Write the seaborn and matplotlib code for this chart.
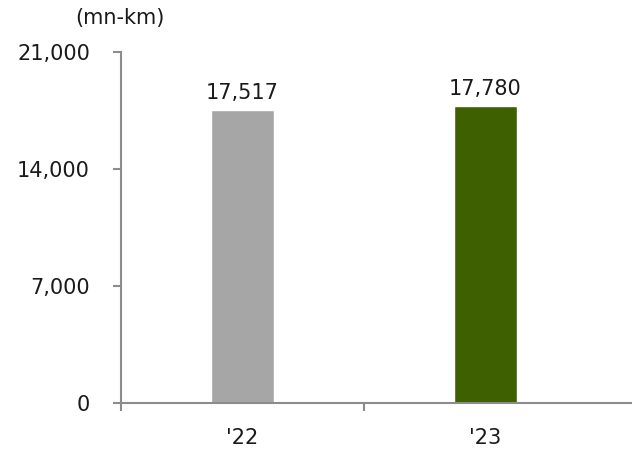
import seaborn as sns
import pandas as pd
import matplotlib
import matplotlib.pyplot as plt

matplotlib.use('Agg')

sns.set_theme(style="ticks")
plt.rcParams['font.family'] = ['DejaVu Sans']

years = ["'22", "'23"]
values = [17517, 17780]
bar_colors = ['#a6a6a6', '#3f6000']
y_ticks = [0, 7000, 14000, 21000]
unit_label = '(mn-km)'

axis_color = '#8c8c8c'
text_color = '#1a1a1a'

df = pd.DataFrame({'Year': years, 'Value': values})

fig = plt.figure(figsize=(6.32, 4.55), dpi=100)
ax = fig.add_axes([121/632, 1 - 403/455, 1 - 121/632, (403 - 52)/455])

sns.barplot(data=df, x='Year', y='Value', hue='Year', palette=bar_colors,
            width=0.26, legend=False, saturation=1, ax=ax)

ax.set_xlim(-0.5, 1.603)
ax.set_ylim(0, 21000)
ax.set_yticks(y_ticks)
ax.set_yticklabels([f'{v:,}' for v in y_ticks])
ax.set_xlabel('')
ax.set_ylabel('')

# category boundary ticks on x axis, labels at centres
ax.set_xticks([0, 1])
ax.set_xticklabels(years)
ax.set_xticks([-0.5, 0.5], minor=True)
ax.tick_params(axis='x', which='major', bottom=True, length=0, pad=18,
               labelsize=15, labelcolor=text_color)
ax.tick_params(axis='x', which='minor', bottom=True, length=5.8, width=1.5,
               color=axis_color, direction='out')
ax.tick_params(axis='y', left=True, length=5.8, width=1.5, color=axis_color,
               direction='out', pad=16.5, labelsize=15, labelcolor=text_color)

for side in ['top', 'right']:
    ax.spines[side].set_visible(False)
for side in ['left', 'bottom']:
    ax.spines[side].set_color(axis_color)
    ax.spines[side].set_linewidth(1.5)

for c in ax.containers:
    ax.bar_label(c, labels=[f'{int(v):,}' for v in c.datavalues], padding=5,
                 fontsize=15, color=text_color)

fig.text(120/632, 1 - 18/455, unit_label, ha='center', va='center',
         fontsize=15, color=text_color)

fig.savefig('out.png', dpi=100)
